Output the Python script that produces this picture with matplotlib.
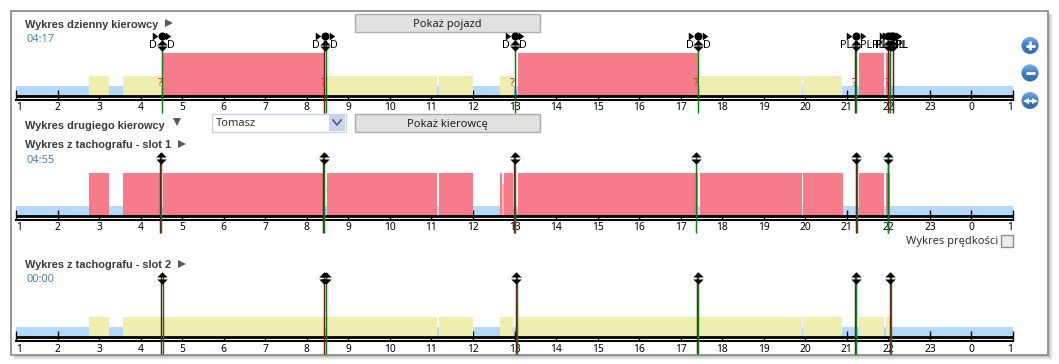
"""Driver activity charts: daily chart and tachograph slot 1 / slot 2"""

import matplotlib
matplotlib.use("Agg")
import numpy as np
import matplotlib.pyplot as plt
from matplotlib.patches import Rectangle, Circle

W, H = 1059, 364

RED = "#f67c8b"
YELLOW = "#eeeeb1"
BLUE = "#b5d9fb"
GREEN = "#0b7d12"
DARK = "#74121a"
TEXT_COL = "#3a3a3a"
TIME_COL = "#4b80c0"

hours = list(range(1, 26))
hour_labels = [str(h) for h in range(1, 24)] + ["0", "1"]

# activity blocks (start hour, end hour)
day_yellow = [(2.75, 3.23), (3.57, 4.50), (8.49, 11.14), (11.19, 12.0), (12.65, 12.97),
              (17.46, 19.92), (19.94, 20.88)]
day_red = [(4.53, 8.41), (13.08, 17.41), (21.29, 21.89), (21.94, 22.04)]

slot1_red = [(2.75, 3.23), (3.57, 4.50), (4.53, 8.41), (8.49, 11.14), (11.19, 12.0),
             (12.65, 12.70), (12.74, 12.97), (13.08, 17.41), (17.47, 19.92), (19.94, 20.91),
             (21.29, 21.89), (21.94, 22.04)]
slot1_orange = [(12.70, 12.74)]

slot2_yellow = [(2.75, 3.23), (3.57, 8.41), (8.49, 11.14), (11.19, 12.0), (12.65, 12.97),
                (13.08, 19.92), (19.94, 20.88), (21.29, 21.89), (21.94, 22.04)]

# event lines
day_events = [4.51, 8.44, 13.0, 17.42, 21.22, 22.0, 22.07, 22.1]
day_event_labels = ["D", "D", "D", "D", "PL", "PL", "PL", "PL"]
day_dark = [8.42, 21.20, 22.0, 22.10]
day_green = [4.51, 8.46, 13.0, 17.42, 21.23, 22.05]
day_unknown = [4.47, 8.40, 12.95, 17.37, 21.17, 21.98]

slot1_events = [4.49, 8.41, 13.0, 17.38, 21.23, 22.0]
slot1_dark = [4.47, 8.40, 12.99, 21.21, 21.98]
slot1_green = [4.50, 8.42, 13.01, 17.38, 21.24, 22.0]

slot2_events = [4.51, 8.42, 8.46, 13.04, 17.41, 21.22, 22.05]
slot2_dark = [4.50, 8.41, 13.04, 17.40, 21.20, 22.04]
slot2_green = [4.54, 8.47, 13.05, 17.42, 21.23, 22.06]

FONT = "Noto Sans"
plt.rcParams["font.family"] = FONT


def px_axes(fig, left, top, right, bottom):
    """Axes placed with pixel edges, measured from the top left."""
    return fig.add_axes([left / W, 1 - bottom / H, (right - left) / W, (bottom - top) / H])


def draw_chrome(ax):
    """Panel, shadow, buttons and the other widgets around the charts."""
    ax.set_xlim(0, W)
    ax.set_ylim(H, 0)
    ax.axis("off")

    # shadow on the right and bottom
    for i, a in enumerate(np.linspace(0.26, 0.03, 7)):
        ax.add_patch(Rectangle((14, 14), 1034 + i, 341 + i, fc="black", ec="none", alpha=a * 0.45))
    ax.add_patch(Rectangle((11, 11), 1037, 344, fc="white", ec="#8f8f8f", lw=1.3))

    for top in (13.5, 113.5):
        ax.add_patch(Rectangle((355, top), 185, 18.5, fc="#e1e1e1", ec="#adadad", lw=1))
    ax.text(447, 24, "Pokaż pojazd", fontsize=8, color="#222222", ha="center", va="center")
    ax.text(447, 124, "Pokaż kierowcę", fontsize=8, color="#222222", ha="center", va="center")

    # driver combo
    ax.add_patch(Rectangle((212, 113.5), 134, 18.5, fc="white", ec="#cdd3df", lw=1))
    ax.add_patch(Rectangle((328.5, 114.5), 16.5, 16.5, fc="#c9d3ee", ec="none"))
    ax.plot([333, 337, 341], [120, 125, 120], color="#4a5a80", lw=1.2)
    ax.text(215.5, 123, "Tomasz", fontsize=8, color="#333333", va="center")

    titles = [("Wykres dzienny kierowcy", 24.5), ("Wykres drugiego kierowcy", 126),
              ("Wykres z tachografu - slot 1", 145), ("Wykres z tachografu - slot 2", 265)]
    for label, y in titles:
        ax.text(25, y, label, fontsize=7.9, color=TEXT_COL, weight="bold", va="center",
                family="Liberation Sans")

    for x, y, m in [(169, 23, ">"), (177, 122, "v"), (181.5, 144, ">"), (181.5, 264, ">")]:
        ax.plot(x, y, marker=m, ms=6.2, color="#5a5a5a", mew=0)

    for label, y in [("04:17", 40), ("04:55", 160.5), ("00:00", 280)]:
        ax.text(26.5, y, label, fontsize=8, color=TIME_COL, va="center")

    # zoom buttons
    for y, kind in [(45.5, "+"), (73, "-"), (100.5, "<>")]:
        circle = Circle((1030, y), 8.3, fc="#4f8fd6", ec="#b6cfe8", lw=0.6)
        ax.add_patch(circle)
        grad = ax.imshow(np.linspace(0, 1, 20)[:, None], extent=(1021, 1039, y + 9, y - 9),
                         cmap=matplotlib.colors.LinearSegmentedColormap.from_list(
                             "btn", ["#78aee6", "#3f7fc4", "#2f68a8"]),
                         aspect="auto", zorder=2)
        grad.set_clip_path(circle)
        if kind == "+":
            ax.plot([1025.5, 1034.5], [y, y], color="white", lw=2, zorder=3, solid_capstyle="butt")
            ax.plot([1030, 1030], [y - 4.5, y + 4.5], color="white", lw=2, zorder=3, solid_capstyle="butt")
        elif kind == "-":
            ax.plot([1025.5, 1034.5], [y, y], color="white", lw=2, zorder=3, solid_capstyle="butt")
        else:
            ax.plot([1026, 1034], [y, y], color="white", lw=1.3, zorder=3)
            ax.plot(1025.5, y, marker="<", ms=4, color="white", mew=0, zorder=3)
            ax.plot(1034.5, y, marker=">", ms=4, color="white", mew=0, zorder=3)
    ax.set_xlim(0, W)
    ax.set_ylim(H, 0)

    ax.text(998, 241.5, "Wykres prędkości", fontsize=8, color="#333333", ha="right", va="center")
    ax.add_patch(Rectangle((1001, 235), 12, 12, fc="#ececec", ec="#8e8e8e", lw=1))


def draw_axis(ax):
    """Double black time axis with the hour ticks."""
    ax.set_xlim(1, 25)
    ax.patch.set_alpha(0)
    for side in ("top", "left", "right"):
        ax.spines[side].set_visible(False)
    ax.spines["bottom"].set_position(("data", -4))
    ax.spines["bottom"].set_linewidth(1.5)
    ax.set_yticks([])
    ax.set_xticks(hours, hour_labels)
    ax.tick_params(axis="x", direction="in", length=7, width=1, pad=1.8, labelsize=7.4, colors="black")
    labels = ax.get_xticklabels()
    labels[0].set_ha("left")
    labels[-1].set_ha("right")
    ax.axhline(0, color="black", lw=2, zorder=4)
    ax.spines["bottom"].set_zorder(4)


def draw_blocks(ax, blocks, color, height):
    for start, end in blocks:
        ax.bar(start, height, width=end - start, align="edge", color=color, lw=0, zorder=2)


def draw_band(ax):
    ax.bar(1, 10, width=24, align="edge", color=BLUE, lw=0, zorder=1)


def draw_lines(ax, xs, color, top):
    ax.vlines(xs, -17, top, color=color, lw=1.05, zorder=6, clip_on=False)


def draw_diamonds(ax, xs, y):
    """Event marker: two opposed triangles with a thin slit between."""
    for x in xs:
        ax.plot(x, y + 0.8, marker=[(-1, 0), (1, 0), (0, 1)], ms=7.5, color="black", mew=0, zorder=7, clip_on=False)
        ax.plot(x, y - 0.8, marker=[(-1, 0), (1, 0), (0, -1)], ms=7.5, color="black", mew=0, zorder=7, clip_on=False)


def main():
    fig = plt.figure(figsize=(W / 100, H / 100), dpi=100)
    fig.patch.set_facecolor("white")

    bg = fig.add_axes([0, 0, 1, 1], zorder=0)
    draw_chrome(bg)

    # daily chart
    ax = px_axes(fig, 16, 30, 1013, 117)
    ax.set_zorder(1)
    ax.set_ylim(-21, 66)
    draw_band(ax)
    draw_blocks(ax, day_yellow, YELLOW, 20)
    draw_blocks(ax, day_red, RED, 43)
    draw_axis(ax)
    draw_lines(ax, day_dark, DARK, 56)
    draw_lines(ax, day_green, GREEN, 56)
    draw_diamonds(ax, day_events, 50.5)
    arrow = [(-0.7, -1), (-0.7, 1), (0.7, 0)]
    for x, label in zip(day_events, day_event_labels):
        ax.plot(x, 60.5, "o", ms=5.8, color="black", mew=0, zorder=7, clip_on=False)
        ax.plot([x - 0.16, x + 0.16], [60.5, 60.5], ls="none", marker=arrow, ms=5.6,
                color="black", mew=0, zorder=7, clip_on=False)
        off = 0.21 if label == "D" else 0.24
        ax.text(x - off, 50, label, fontsize=7.8, color="black", ha="center", va="center", zorder=5)
        ax.text(x + off, 50, label, fontsize=7.8, color="black", ha="center", va="center", zorder=5)
    for x in day_unknown:
        ax.text(x, 12, "?", fontsize=8, color="#f01010", weight="bold", ha="center", va="center", zorder=8)

    # slot 1
    ax = px_axes(fig, 16, 150, 1013, 238)
    ax.set_zorder(1)
    ax.set_ylim(-22, 66)
    draw_band(ax)
    draw_blocks(ax, slot1_red, RED, 43)
    draw_blocks(ax, slot1_orange, "#f8b8a0", 32)
    draw_axis(ax)
    draw_lines(ax, slot1_dark, DARK, 63)
    draw_lines(ax, slot1_green, GREEN, 63)
    draw_diamonds(ax, slot1_events, 58)
    ax.text(8.47, 24, "!", fontsize=6, color="#4f9fd8", weight="bold", ha="center", va="center", zorder=3)
    ax.text(17.38, 24, "!", fontsize=6, color="#e08a50", weight="bold", ha="center", va="center", zorder=3)

    # slot 2
    ax = px_axes(fig, 16, 270, 1013, 358)
    ax.set_zorder(1)
    ax.set_ylim(-21, 67)
    draw_band(ax)
    draw_blocks(ax, slot2_yellow, YELLOW, 20)
    draw_axis(ax)
    draw_lines(ax, slot2_dark, DARK, 64)
    draw_lines(ax, slot2_green, GREEN, 64)
    draw_diamonds(ax, slot2_events, 59)

    fig.savefig("out.png", dpi=100)


if __name__ == "__main__":
    main()
